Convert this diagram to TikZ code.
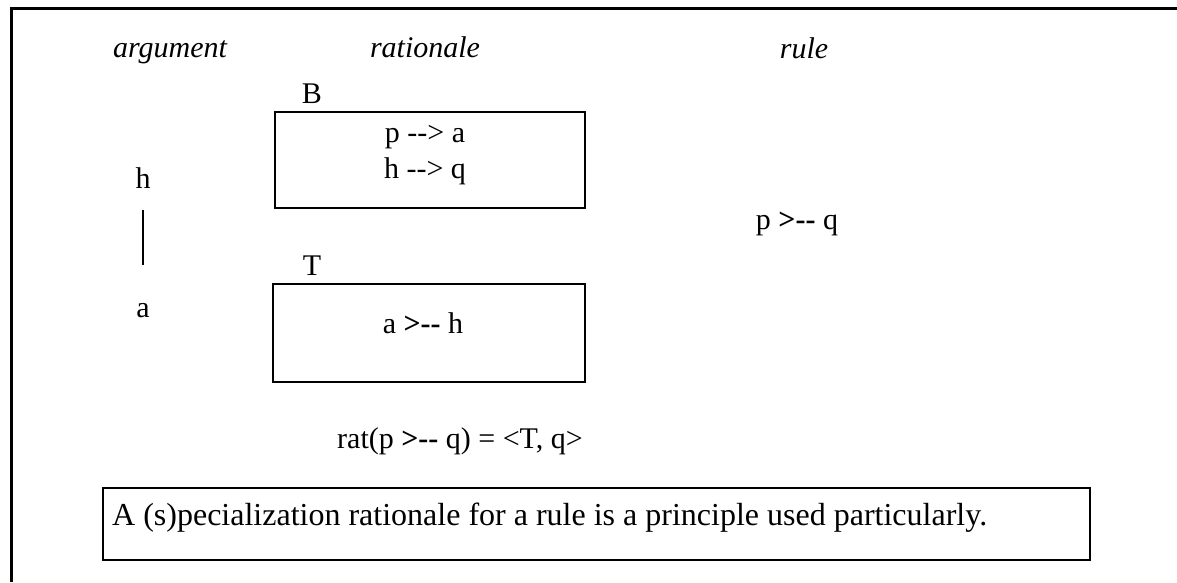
\documentclass[tikz,border=0pt]{standalone}
\usepackage{fontspec}
\setmainfont{Liberation Serif}
\usetikzlibrary{positioning}

\newcommand{\defeats}{\textbf{>-{}-}}

\begin{document}
\begin{tikzpicture}[x=1pt,y=-1pt,font=\fontsize{30}{36}\selectfont]
  \tikzstyle{frame}=[line width=3pt]
  \tikzstyle{box}=[draw,line width=2pt,minimum width=310pt,minimum height=96pt,inner sep=0pt]
  \tikzstyle{txt}=[inner sep=0pt,anchor=base]
  \tikzstyle{head}=[txt,font=\fontsize{30}{36}\selectfont\itshape]
  \useasboundingbox (0,0) rectangle (1177,582);
  \draw[frame] (11,582) -- (11,8) -- (1177,8);
  % column heads
  \node[head] (argument) at (170,57) {argument};
  \node[head] (rationale) at (425,57) {rationale};
  \node[head] (rule) at (804,58) {rule};
  % argument column
  \node[txt] (h) at (143,188) {h};
  \node[txt] (a) at (143,317) {a};
  \draw[line width=2pt,shorten <=22pt,shorten >=38pt] (h.south) -- (a.north);
  % rationale column
  \node[box] (boxB) at (430,159.5) {};
  \node[txt] (labB) at (312,103) {B};
  \node[txt] (pa) at (425,142) {p -{}-> a};
  \node[txt] (hq) at (425,178) {h -{}-> q};
  \node[box,minimum width=312pt,minimum height=98pt] (boxT) at (429,333) {};
  \node[txt] (labT) at (312,275) {T};
  \node[txt] (ah) at (423,333) {a \defeats{} h};
  \node[txt] (rat) at (460,448) {rat(p \defeats{} q) = <T, q>};
  % rule column
  \node[txt] (pq) at (797,229) {p \defeats{} q};
  % statement
  \node[box,minimum width=987pt,minimum height=72pt] (stmt) at (596.5,524) {};
  \node[txt,anchor=base west,font=\fontsize{32}{38}\selectfont] (stmttxt) at (112,525) {A (s)pecialization rationale for a rule is a principle used particularly.};
\end{tikzpicture}
\end{document}
